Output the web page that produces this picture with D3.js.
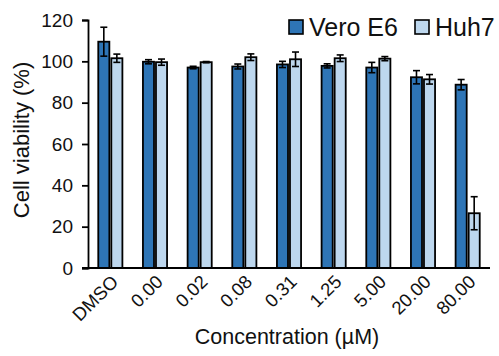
<!DOCTYPE html>
<html>
<head>
<meta charset="utf-8">
<script src="https://cdn.jsdelivr.net/npm/d3@7"></script>
<style>
  body { margin: 0; background: #fff; }
  svg { display: block; font-family: Arial, "Liberation Sans", sans-serif; }
</style>
</head>
<body>
<div class="chart"></div>
<script>
// data
let concentrations = ["DMSO", "0.00", "0.02", "0.08", "0.31", "1.25", "5.00", "20.00", "80.00"];
let seriesNames = ["Vero E6", "Huh7"];
let veroMean = [109.5, 99.8, 97.0, 97.5, 98.5, 97.8, 97.0, 92.3, 88.7];
let veroErr = [7.0, 1.0, 0.6, 1.2, 1.5, 1.0, 2.5, 3.2, 2.5];
let huhMean = [101.5, 99.6, 99.6, 102.0, 101.0, 101.5, 101.3, 91.3, 26.5];
let huhErr = [2.0, 1.5, 0.3, 1.6, 3.5, 1.6, 1.0, 2.3, 8.0];
let yTicks = [0, 20, 40, 60, 80, 100, 120];
let colors = ["#2e75b6", "#bdd7ee"];

let width = 499, height = 356;
let plotLeft = 88, plotRight = 490, plotTop = 20, plotBottom = 268;

let rows = concentrations.map((c, i) => ({
	conc: c,
	vals: [
		{ s: seriesNames[0], v: veroMean[i], e: veroErr[i] },
		{ s: seriesNames[1], v: huhMean[i], e: huhErr[i] }
	]
}));

let svg = d3.select(".chart")
	.append("svg")
	.attr("width", width)
	.attr("height", height);

let x = d3.scaleBand().domain(concentrations).range([plotLeft, plotRight])
	.paddingInner(0.46).paddingOuter(0.23);
let x1 = d3.scaleBand().domain(seriesNames).range([0, x.bandwidth()]).paddingInner(0.15);
let y = d3.scaleLinear().domain([0, 120]).range([plotBottom, plotTop]);
let color = d3.scaleOrdinal().domain(seriesNames).range(colors);

// y axis
let yAxis = svg.append("g")
	.attr("transform", "translate(" + plotLeft + ",0)")
	.call(d3.axisLeft(y).tickValues(yTicks).tickSize(6).tickPadding(9));
yAxis.select(".domain").attr("stroke", "#000").attr("stroke-width", 1.8);
yAxis.selectAll(".tick line").attr("stroke", "#000").attr("stroke-width", 1.8);
yAxis.selectAll(".tick text").attr("font-size", 19).attr("fill", "#111")
	.attr("font-family", "Arial, 'Liberation Sans', sans-serif");

// bars
let groups = svg.selectAll(".grp")
	.data(rows)
	.enter().append("g")
	.attr("class", "grp")
	.attr("transform", d => "translate(" + x(d.conc) + ",0)");

groups.selectAll("rect")
	.data(d => d.vals)
	.enter().append("rect")
	.attr("x", d => x1(d.s))
	.attr("y", d => y(d.v))
	.attr("width", x1.bandwidth())
	.attr("height", d => y(0) - y(d.v))
	.attr("fill", d => color(d.s))
	.attr("stroke", "#000")
	.attr("stroke-width", 1.8);

// error bars
let err = groups.selectAll(".err")
	.data(d => d.vals)
	.enter().append("g")
	.attr("class", "err")
	.attr("stroke", "#000")
	.attr("stroke-width", 1.6);
let capW = 3.5;
err.append("line")
	.attr("x1", d => x1(d.s) + x1.bandwidth() / 2)
	.attr("x2", d => x1(d.s) + x1.bandwidth() / 2)
	.attr("y1", d => y(d.v - d.e))
	.attr("y2", d => y(d.v + d.e));
err.append("line")
	.attr("x1", d => x1(d.s) + x1.bandwidth() / 2 - capW)
	.attr("x2", d => x1(d.s) + x1.bandwidth() / 2 + capW)
	.attr("y1", d => y(d.v + d.e))
	.attr("y2", d => y(d.v + d.e));
err.append("line")
	.attr("x1", d => x1(d.s) + x1.bandwidth() / 2 - capW)
	.attr("x2", d => x1(d.s) + x1.bandwidth() / 2 + capW)
	.attr("y1", d => y(d.v - d.e))
	.attr("y2", d => y(d.v - d.e));

// x axis line (no ticks)
svg.append("line")
	.attr("x1", plotLeft - 6).attr("x2", plotRight)
	.attr("y1", y(0)).attr("y2", y(0))
	.attr("stroke", "#000").attr("stroke-width", 1.8);

// rotated category labels
svg.selectAll(".xlab")
	.data(concentrations)
	.enter().append("text")
	.attr("class", "xlab")
	.attr("text-anchor", "end")
	.attr("font-size", 18.5)
	.attr("fill", "#111")
	.attr("transform", d => "translate(" + (x(d) + x.bandwidth() / 2 + 9) + "," + 283 + ") rotate(-45)")
	.text(d => d);

// axis titles
svg.append("text")
	.attr("x", 287).attr("y", 344)
	.attr("text-anchor", "middle")
	.attr("font-size", 21.5)
	.attr("fill", "#111")
	.text("Concentration (µM)");

svg.append("text")
	.attr("transform", "translate(29,140) rotate(-90)")
	.attr("text-anchor", "middle")
	.attr("font-size", 22)
	.attr("fill", "#111")
	.text("Cell viability (%)");

// legend
let legendX = [289, 415];
let legend = svg.selectAll(".leg")
	.data(seriesNames)
	.enter().append("g")
	.attr("class", "leg")
	.attr("transform", (d, i) => "translate(" + legendX[i] + ",20)");
legend.append("rect")
	.attr("width", 14).attr("height", 14)
	.attr("fill", d => color(d))
	.attr("stroke", "#000").attr("stroke-width", 1.6);
legend.append("text")
	.attr("x", 20).attr("y", 15.5)
	.attr("font-size", 25)
	.attr("fill", "#111")
	.text(d => d);
</script>
</body>
</html>
